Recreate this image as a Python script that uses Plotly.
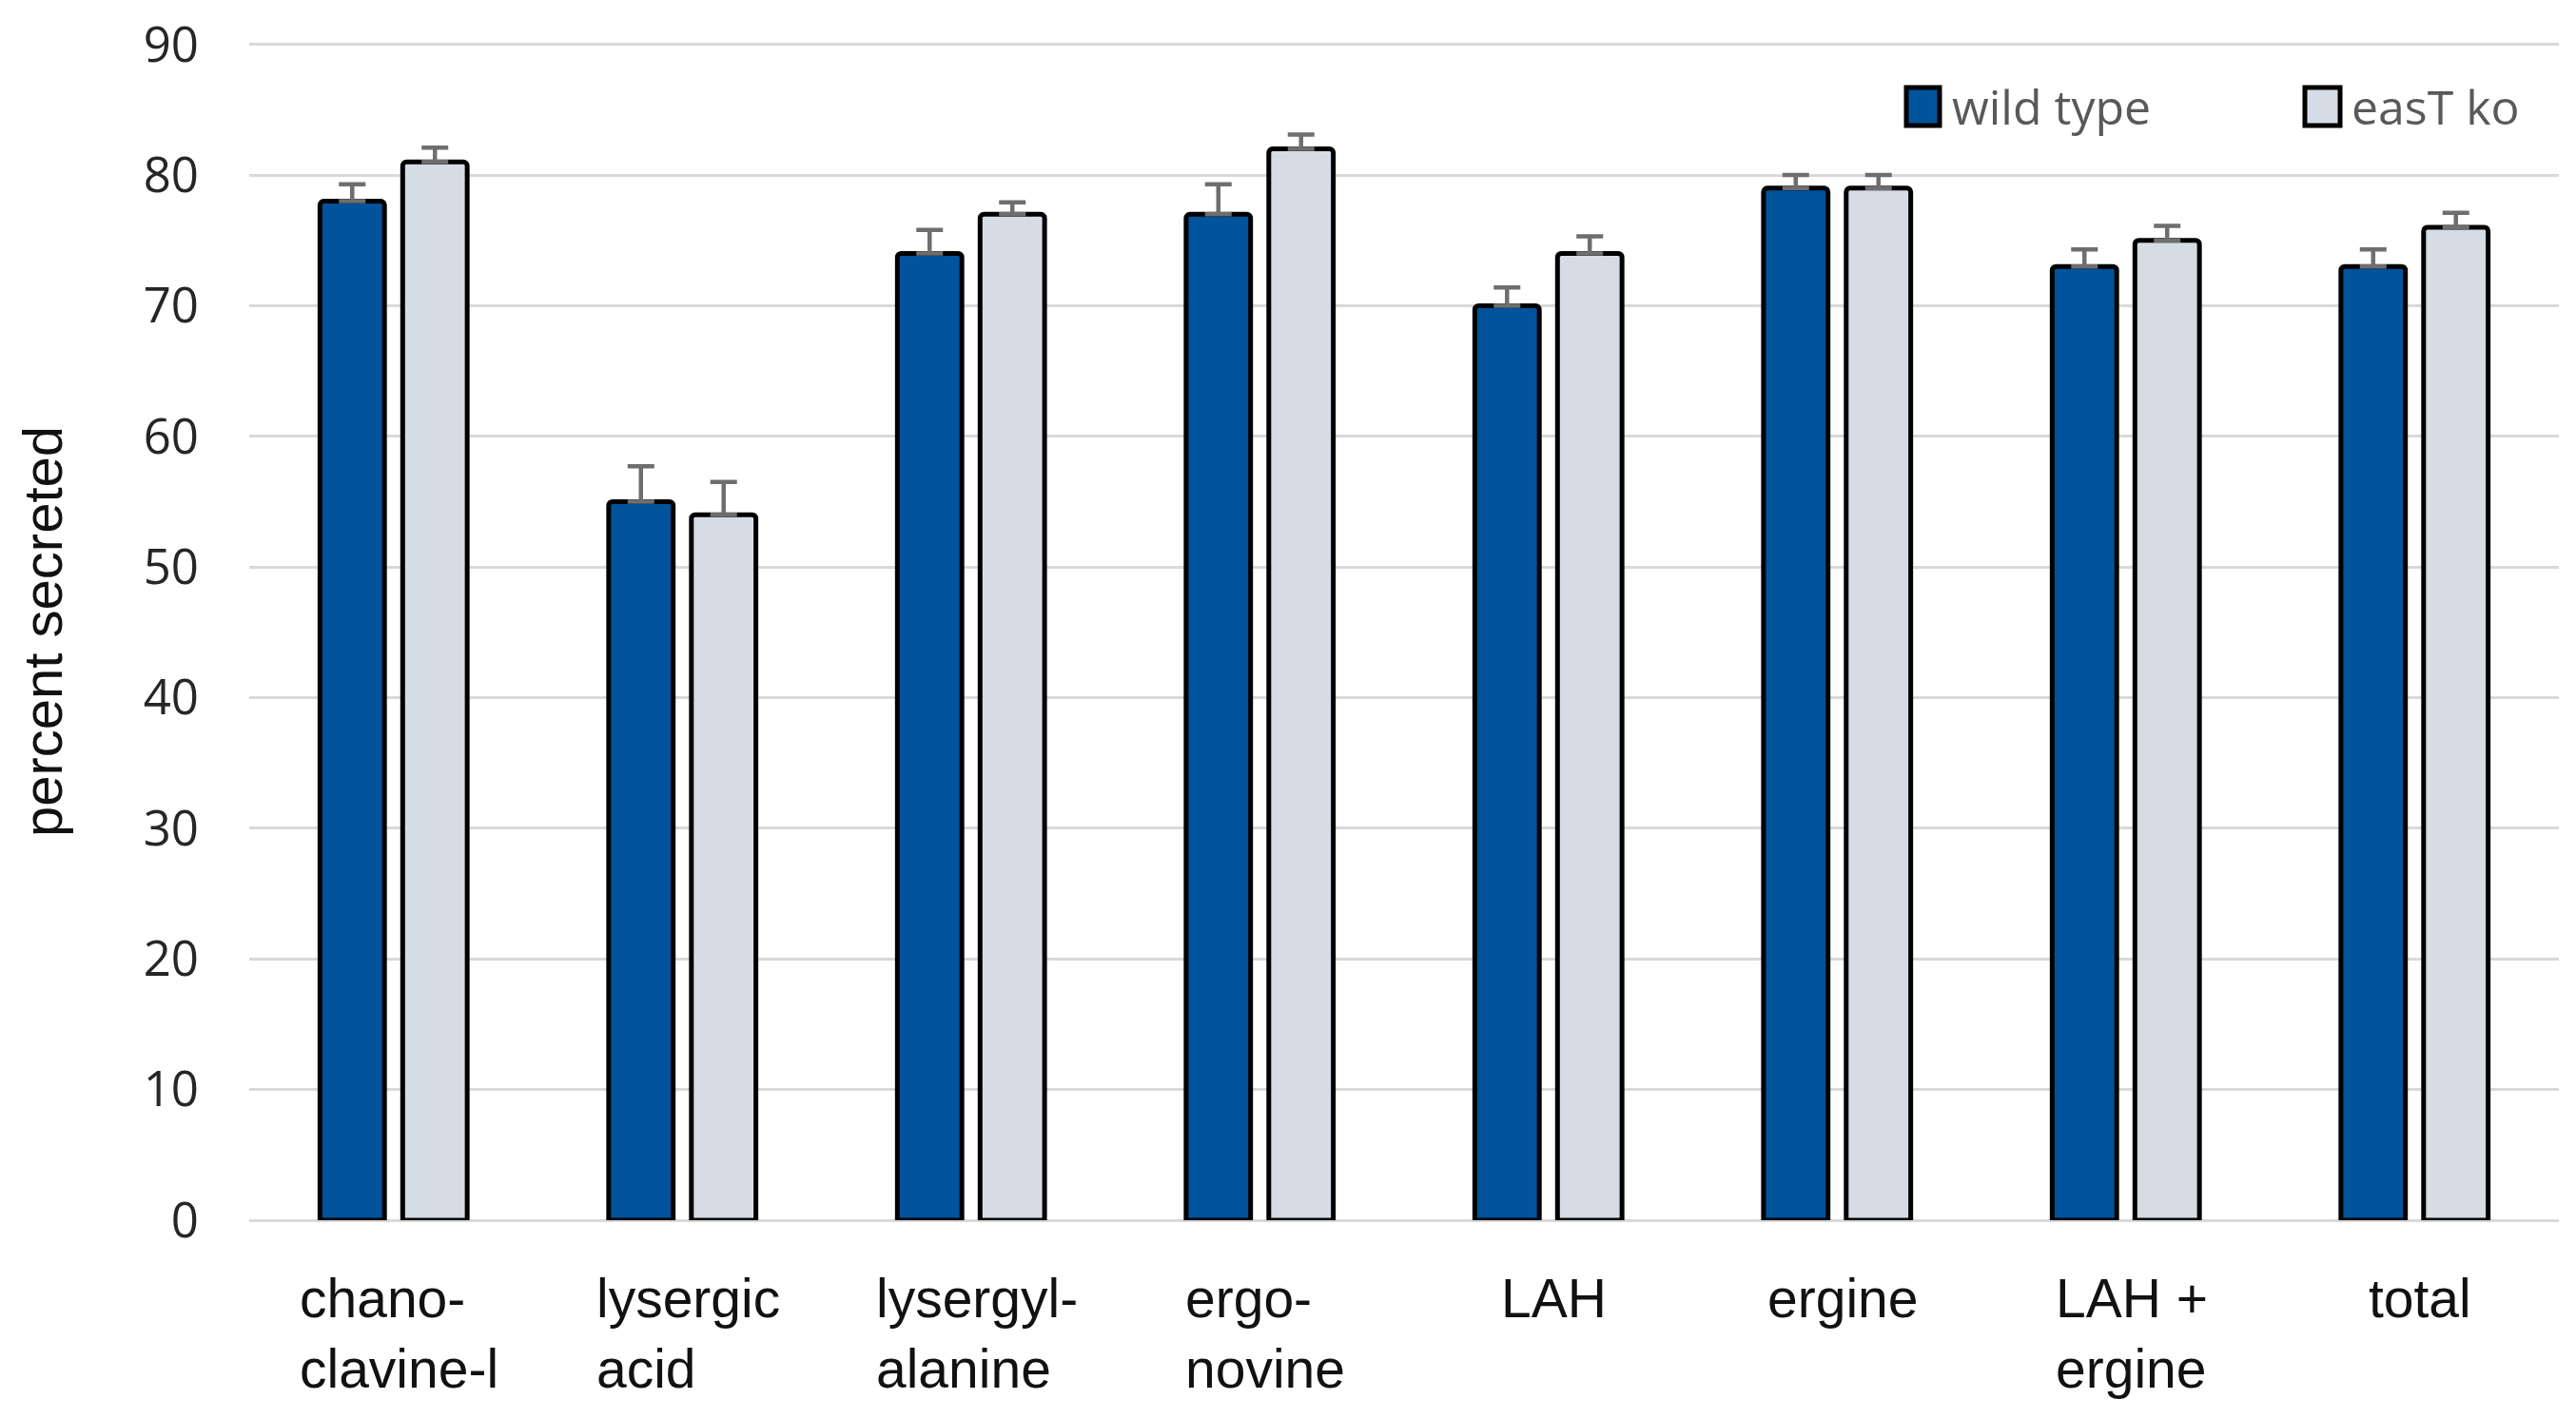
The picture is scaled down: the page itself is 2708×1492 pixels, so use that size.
import plotly.graph_objects as go

categories = ["chano-<br>clavine-l", "lysergic<br>acid", "lysergyl-<br>alanine", "ergo-<br>novine",
              "LAH", "ergine", "LAH +<br>ergine", "total"]
cat_keys = ["chanoclavine", "lysergic acid", "lysergylalanine", "ergonovine",
            "LAH", "ergine", "LAH+ergine", "total"]
wild_type = [78, 55, 74, 77, 70, 79, 73, 73]
wild_type_err = [1.3, 2.7, 1.8, 2.3, 1.4, 1.0, 1.3, 1.3]
eas_ko = [81, 54, 77, 82, 74, 79, 75, 76]
eas_ko_err = [1.1, 2.5, 0.9, 1.1, 1.3, 1.0, 1.1, 1.1]
y_ticks = list(range(0, 100, 10))
Y_MAX = 90.12  # a hair above 90 so the top gridline/label are kept

WT_COLOR = "#01539B"
KO_COLOR = "#D6DCE5"
ERR_COLOR = "#6E6E6E"
GRID = "#D9D9D9"

W, H = 2708, 1492
OFF = 8  # default page body margin
ML, MT = 262 - OFF, 45 - OFF
PW, PH = 2428, 1238
MR = W - ML - PW
MB = H - MT - PH

fig = go.Figure()
for name, vals, errs, color in [("wild type", wild_type, wild_type_err, WT_COLOR),
                                ("easT ko", eas_ko, eas_ko_err, KO_COLOR)]:
    fig.add_trace(go.Bar(
        name=name, x=cat_keys, y=vals,
        marker=dict(color=color, line=dict(color="black", width=5), cornerradius=4),
        error_y=dict(type="data", array=errs, arrayminus=[0] * len(errs), symmetric=False,
                     color=ERR_COLOR, thickness=4.5, width=14),
        showlegend=False,
    ))

# category labels (left-aligned lines, centred under each group)
for key, label in zip(cat_keys, categories):
    fig.add_annotation(x=key, y=0, xref="x", yref="y", text=label, showarrow=False,
                       xanchor="center", yanchor="top", align="left", yshift=-48, xshift=6,
                       font=dict(family="Liberation Sans, Arial", size=57, color="#111111"))

# legend drawn as large boxes (screen pixel positions converted to paper fractions)
def px_x(p):
    return (p - OFF - ML) / PW

def px_y(p):
    return (MT + PH - (p - OFF)) / PH

legend_items = [("wild type", WT_COLOR, 2004, 2039, 2054), ("easT ko", KO_COLOR, 2423, 2460, 2474)]
for name, color, x0, x1, tx in legend_items:
    fig.add_shape(type="rect", xref="paper", yref="paper",
                  x0=px_x(x0), x1=px_x(x1), y0=px_y(132), y1=px_y(92),
                  fillcolor=color, line=dict(color="black", width=5))
    fig.add_annotation(xref="paper", yref="paper", x=px_x(tx - 4), y=px_y(112),
                       text=name, showarrow=False, xanchor="left", yanchor="middle",
                       font=dict(family="Open Sans, Noto Sans", size=50, color="#595959"))

fig.update_layout(
    width=W, height=H,
    margin=dict(l=ML, r=MR, t=MT, b=MB, autoexpand=False),
    paper_bgcolor="white", plot_bgcolor="white",
    barmode="group", bargap=0.427, bargroupgap=0.22,
    showlegend=False,
    xaxis=dict(type="category", showticklabels=False, showgrid=False, showline=False,
               zeroline=False, ticks=""),
    yaxis=dict(range=[0, Y_MAX], tickvals=y_ticks, showgrid=True, gridcolor=GRID, gridwidth=3,
               zeroline=True, zerolinecolor=GRID, zerolinewidth=3, showline=False,
               ticks="", ticklabelstandoff=52, ticklabeloverflow="allow",
               tickfont=dict(family="Open Sans, Noto Sans", size=51, color="#262626"),
               title=dict(text="percent secreted", standoff=66,
                          font=dict(family="Liberation Sans, Arial", size=58, color="#111111"))),
)

fig.write_html("out.html")
